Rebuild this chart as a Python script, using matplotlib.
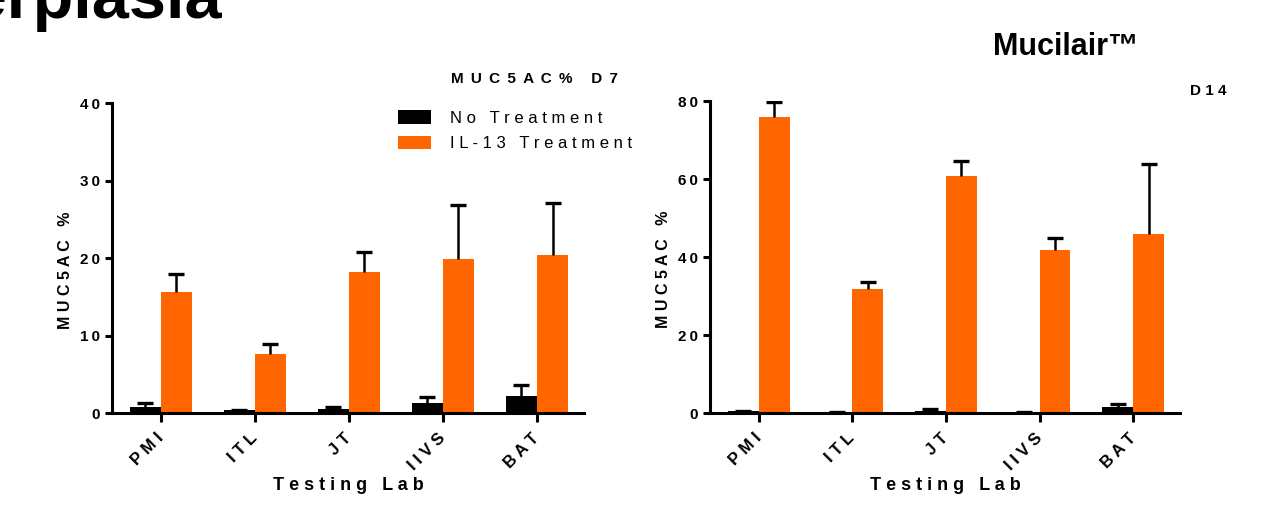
import numpy as np
import matplotlib
matplotlib.use("Agg")
import matplotlib.pyplot as plt

plt.rcParams['font.family'] = ['Liberation Sans', 'DejaVu Sans']

# Data (MUC5AC %, mean + upper SD)
labs = ['PMI', 'ITL', 'JT', 'IIVS', 'BAT']

d7_none = [0.77, 0.43, 0.5, 1.28, 2.14]
d7_none_err = [0.5, 0.0, 0.27, 0.8, 1.45]
d7_il13 = [15.6, 7.57, 18.2, 19.9, 20.45]
d7_il13_err = [2.4, 1.3, 2.6, 6.9, 6.65]

d14_none = [0.43, 0.15, 0.6, 0.35, 1.45]
d14_none_err = [0.0, 0.0, 0.4, 0.0, 0.95]
d14_il13 = [76.0, 31.8, 60.8, 41.8, 45.8]
d14_il13_err = [3.7, 1.8, 3.7, 3.0, 18.0]

orange = '#FF6600'
W, H = 1261, 511


def spaced(s, sep='\u2009'):
    # Prism-style letter spacing
    return sep.join(s)


def upper_err(ax, x, vals, err):
    zeros = np.zeros(len(vals))
    _, caps, _ = ax.errorbar(x, vals, yerr=[zeros, err], fmt='none', ecolor='black',
                             elinewidth=1.8, capsize=5.5, capthick=2.4, zorder=3)
    caps[0].set_visible(False)  # only the upper cap, like Prism


def panel(ax, none_vals, none_err, il_vals, il_err, ymax, step):
    x = np.arange(len(labs))
    w = 0.33
    ax.bar(x - w / 2, none_vals, w, color='black', label=spaced('No Treatment', ' '))
    ax.bar(x + w / 2, il_vals, w, color=orange, label=spaced('IL-13 Treatment', ' '))
    upper_err(ax, x - w / 2, none_vals, none_err)
    upper_err(ax, x + w / 2, il_vals, il_err)

    ax.set_xlim(-0.52, 4.5)
    ax.set_ylim(0, ymax)
    for s in ['top', 'right']:
        ax.spines[s].set_visible(False)
    for s in ['left', 'bottom']:
        ax.spines[s].set_linewidth(2.2)
    ax.tick_params(axis='y', width=2.2, length=5, pad=4)
    ax.tick_params(axis='x', width=2.2, length=6.5, pad=10)

    yt = list(range(0, ymax + 1, step))
    ax.set_yticks(yt)
    ax.set_yticklabels([spaced(str(v)) for v in yt], fontsize=11, fontweight='bold')
    ax.set_xticks(x)
    ax.set_xticklabels([spaced(l, ' ') for l in labs], rotation=45, ha='right', va='center',
                       rotation_mode='anchor', fontsize=12, fontweight='bold')

    ax.set_ylabel(spaced('MUC5AC %', ' '), fontsize=11.5, fontweight='bold')
    ax.yaxis.set_label_coords(-0.083, 0.46)
    ax.set_xlabel(spaced('Testing Lab', ' '), fontsize=13, fontweight='bold', labelpad=3)


fig = plt.figure(figsize=(W / 100, H / 100), dpi=100)
ax1 = fig.add_axes([112 / W, 98 / H, 472 / W, 310 / H])
ax2 = fig.add_axes([710 / W, 98 / H, 470 / W, 312 / H])

panel(ax1, d7_none, d7_none_err, d7_il13, d7_il13_err, 40, 10)
panel(ax2, d14_none, d14_none_err, d14_il13, d14_il13_err, 80, 20)

ax1.legend(loc='upper left', bbox_to_anchor=(398 / W, 1 - 110 / H), bbox_transform=fig.transFigure,
           frameon=False, borderpad=0, borderaxespad=0, handlelength=2.0, handleheight=0.9,
           handletextpad=1.1, labelspacing=0.6, prop={'size': 12})

# headings
fig.text(222 / W, 1 - 18 / H, 'Hyperplasia', ha='right', va='baseline', fontsize=48, fontweight='bold')
fig.text(993 / W, 1 - 55 / H, 'Mucilair\u2122', ha='left', va='baseline', fontsize=22, fontweight='bold')
fig.text(451 / W, 1 - 83 / H, spaced('MUC5AC% D7', ' \u2009'), ha='left', va='baseline',
         fontsize=11, fontweight='bold')
fig.text(1190 / W, 1 - 95 / H, spaced('D14', ' '), ha='left', va='baseline',
         fontsize=11, fontweight='bold')

fig.savefig('out.png', dpi=100)
